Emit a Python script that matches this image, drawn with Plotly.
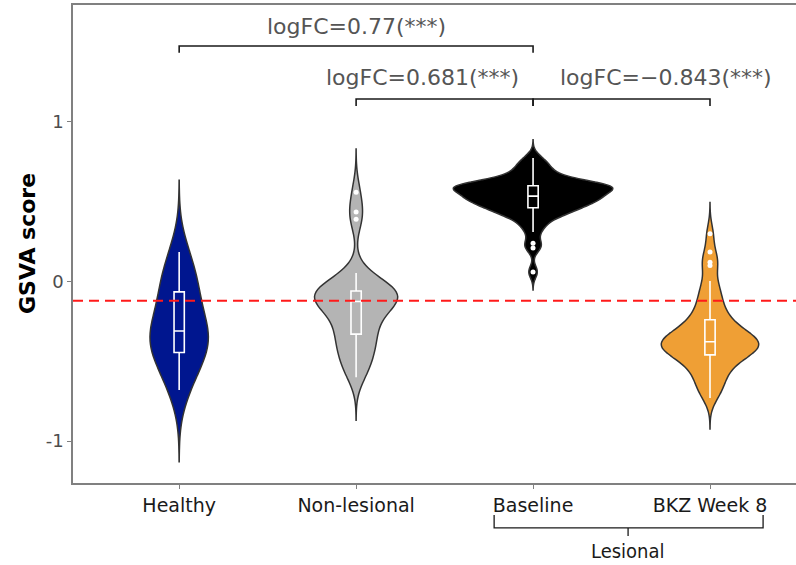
import plotly.graph_objects as go

# ---- data -------------------------------------------------------------
groups = ["Healthy", "Non-lesional", "Baseline", "BKZ Week 8"]

healthy = [-0.68, -0.55, -0.47, -0.42, -0.36, -0.33, -0.29, -0.22,
           -0.09, -0.04, 0.05, 0.185]

non_lesional = [-0.60, -0.56, -0.51, -0.47, -0.44, -0.41, -0.38, -0.34,
                -0.32, -0.29, -0.26, -0.23, -0.20, -0.17, -0.15, -0.13,
                -0.12, -0.11, -0.10, -0.09, -0.08, -0.075, -0.07, -0.065,
                -0.055, -0.04, -0.02, 0.01, 0.053,
                0.39, 0.435, 0.56]

baseline = [0.06, 0.21, 0.24,
            0.31, 0.35, 0.38, 0.40, 0.42, 0.43, 0.44, 0.45, 0.455, 0.46,
            0.47, 0.48, 0.49, 0.50, 0.505, 0.51, 0.515, 0.52, 0.52, 0.525,
            0.53, 0.53, 0.535,
            0.55, 0.565, 0.575, 0.58, 0.58, 0.585, 0.585, 0.59, 0.59, 0.595,
            0.595, 0.60,
            0.60, 0.605, 0.61, 0.615, 0.62, 0.63, 0.645, 0.66, 0.68, 0.70,
            0.72, 0.745, 0.774]

bkz_week8 = [-0.73, -0.69, -0.66, -0.63, -0.60, -0.575, -0.55, -0.53, -0.51,
             -0.49, -0.475, -0.46,
             -0.455, -0.45, -0.44, -0.43, -0.42, -0.41, -0.40, -0.395, -0.39,
             -0.385, -0.38,
             -0.375, -0.37, -0.36, -0.35, -0.34, -0.33, -0.32, -0.30, -0.285,
             -0.27, -0.255,
             -0.24, -0.21, -0.18, -0.15, -0.12, -0.08, -0.04, 0.003,
             0.10, 0.12, 0.185, 0.30]

series = [healthy, non_lesional, baseline, bkz_week8]

reference_level = -0.12

comparisons = [  # (from group index, to group index, label)
    (0, 2, "logFC=0.77(***)"),
    (1, 2, "logFC=0.681(***)"),
    (2, 3, "logFC=\u22120.843(***)"),
]

y_tickvals = [-1, 0, 1]
y_ticktext = ["-1", "0", "1"]

# ---- styling ----------------------------------------------------------
fill_colors = ["#00168F", "#B4B4B4", "#000000", "#EF9F35"]
bandwidths = [0.15, 0.09, 0.038, 0.065]
violin_widths = [0.33, 0.47, 0.90, 0.55]
FONT = "DejaVu Sans"
AXIS_GREY = "#808080"

fig = go.Figure()

for name, vals, col, bw, w in zip(groups, series, fill_colors, bandwidths, violin_widths):
    fig.add_trace(go.Violin(
        x=[name] * len(vals), y=vals, name=name,
        fillcolor=col, line=dict(color="#333333", width=1.5),
        bandwidth=bw, spanmode="manual",
        span=[min(vals) - 3 * bw, max(vals) + 3 * bw],
        scalemode="width", width=w,
        points=False, box_visible=False, meanline_visible=False,
        showlegend=False, opacity=1,
    ))

for name, vals in zip(groups, series):
    fig.add_trace(go.Box(
        x=[name] * len(vals), y=vals, name=name,
        width=0.058, fillcolor="rgba(0,0,0,0)",
        line=dict(color="white", width=1.6),
        marker=dict(color="white", size=5),
        boxpoints="outliers", pointpos=0, jitter=0,
        whiskerwidth=0, showlegend=False,
    ))

# dashed reference level
fig.add_shape(type="line", xref="paper", x0=0, x1=1, yref="y",
              y0=reference_level, y1=reference_level, layer="above",
              line=dict(color="#FF1A1A", width=2, dash="10px,6px"))

# comparison brackets
bracket_rows = [(1.476, 1.433, 1.596), (1.144, 1.100, 1.276), (1.144, 1.100, 1.276)]
label_x = [1.0, 1.373, 2.751]
for (i, j, txt), (yb, yt, ytxt), lx in zip(comparisons, bracket_rows, label_x):
    fig.add_shape(type="path", xref="x", yref="y",
                  path=f"M {i},{yt} L {i},{yb} L {j},{yb} L {j},{yt}",
                  line=dict(color="#1a1a1a", width=1.6))
    fig.add_annotation(x=lx, y=ytxt, xref="x", yref="y", text=txt,
                       showarrow=False, xanchor="center", yanchor="middle",
                       font=dict(family=FONT, size=22, color="#555555"))

# "Lesional" brace under the last two groups
fig.add_shape(type="path", xref="x", yref="paper",
              path="M 1.78,-0.067 L 1.78,-0.094 L 3.30,-0.094 L 3.30,-0.067 "
                   "M 2.537,-0.094 L 2.537,-0.111",
              line=dict(color="#1a1a1a", width=1.3))
fig.add_annotation(x=2.537, y=-0.142, xref="x", yref="paper", text="Lesional",
                   showarrow=False, xanchor="center", yanchor="middle",
                   font=dict(family="Liberation Sans Narrow, DejaVu Sans Condensed, DejaVu Sans",
                             size=20, color="#1a1a1a"))

# y-axis title
fig.add_annotation(x=0, y=0.5, xref="paper", yref="paper", text="GSVA score",
                   textangle=-90, showarrow=False, xanchor="center", yanchor="middle",
                   xshift=-46,
                   font=dict(family=FONT, size=22, color="#000000", weight="bold"))

fig.update_layout(
    width=796, height=565,
    margin=dict(l=73, r=0, t=5, b=82),
    plot_bgcolor="white", paper_bgcolor="white",
    violinmode="overlay", boxmode="overlay",
    showlegend=False,
    xaxis=dict(range=[-0.6, 3.486], categoryorder="array", categoryarray=groups,
               showline=True, linecolor=AXIS_GREY, linewidth=1.5, mirror=True,
               ticks="outside", ticklen=4, tickcolor=AXIS_GREY, tickwidth=1.2,
               showgrid=False, zeroline=False,
               tickfont=dict(family=FONT, size=19, color="#1a1a1a")),
    yaxis=dict(range=[-1.263, 1.733], tickvals=y_tickvals, ticktext=y_ticktext,
               showline=True, linecolor=AXIS_GREY, linewidth=1.5,
               ticks="outside", ticklen=4, tickcolor=AXIS_GREY, tickwidth=1.2,
               showgrid=False, zeroline=False,
               tickfont=dict(family=FONT, size=18, color="#4d4d4d")),
)

fig.write_html("out.html")
